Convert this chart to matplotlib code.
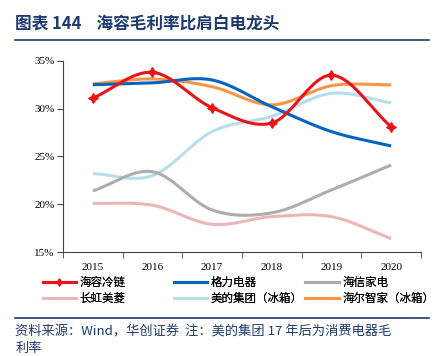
import matplotlib
matplotlib.use("Agg")
import matplotlib.pyplot as plt
import numpy as np
from matplotlib.lines import Line2D

plt.rcParams['font.family'] = ['Noto Sans CJK SC', 'DejaVu Sans']

years = ["2015", "2016", "2017", "2018", "2019", "2020"]
hairong = [31.1, 33.8, 30.1, 28.5, 33.5, 28.1]
gree = [32.5, 32.7, 33.0, 30.2, 27.6, 26.1]
hisense = [21.4, 23.4, 19.4, 19.1, 21.5, 24.1]
meiling = [20.1, 19.9, 17.9, 18.7, 18.7, 16.4]
midea = [23.2, 23.0, 27.6, 29.2, 31.6, 30.6]
haier = [32.6, 33.1, 32.3, 30.4, 32.4, 32.5]

names = ["海容冷链", "格力电器", "海信家电", "长虹美菱", "美的集团（冰箱）", "海尔智家（冰箱）"]
colors = ["#E8141B", "#0563C1", "#ADADAD", "#E9B7B8", "#B8DEEA", "#F79646"]
series = [hairong, gree, hisense, meiling, midea, haier]

navy = "#1F3A6E"
serif = "Liberation Serif"


def smooth(x, y, n=30):
    # catmull-rom curve through the points, like excel's smoothed line
    x = np.asarray(x, float)
    y = np.asarray(y, float)
    px = np.concatenate([[2 * x[0] - x[1]], x, [2 * x[-1] - x[-2]]])
    py = np.concatenate([[2 * y[0] - y[1]], y, [2 * y[-1] - y[-2]]])
    xs, ys = [], []
    t = np.linspace(0, 1, n)
    for i in range(1, len(px) - 2):
        for p, out in ((px, xs), (py, ys)):
            p0, p1, p2, p3 = p[i - 1], p[i], p[i + 1], p[i + 2]
            out.extend(0.5 * (2 * p1 + (-p0 + p2) * t
                              + (2 * p0 - 5 * p1 + 4 * p2 - p3) * t ** 2
                              + (-p0 + 3 * p1 - 3 * p2 + p3) * t ** 3))
    return np.array(xs), np.array(ys)


fig = plt.figure(figsize=(4.36, 3.56), dpi=100)
ax = fig.add_axes([0.1445, 0.292, 0.821, 0.537])

x = np.arange(len(years))
order = [3, 4, 2, 5, 1, 0]
for i in order:
    sx, sy = smooth(x, series[i])
    ax.plot(sx, sy, color=colors[i], lw=2.2, solid_capstyle='butt', zorder=3 + (i == 0))
ax.plot(x, hairong, ls='none', marker=(4, 1, 0), ms=7, color=colors[0], zorder=5)

ax.set_xlim(-0.5, 5.5)
ax.set_ylim(15, 35)
ax.set_yticks([15, 20, 25, 30, 35])
ax.set_yticklabels([f"{v}%" for v in [15, 20, 25, 30, 35]], fontfamily=serif, fontsize=8)
ax.set_xticks(x)
ax.set_xticklabels(years, fontfamily=serif, fontsize=8)
ax.set_xticks(np.arange(-0.5, 6, 1), minor=True)
ax.tick_params(axis='x', which='major', length=0, pad=8)
ax.tick_params(axis='x', which='minor', length=4, color='#444444')
ax.tick_params(axis='y', length=4, color='#444444', pad=2)
for s in ['top', 'right']:
    ax.spines[s].set_visible(False)
for s in ['left', 'bottom']:
    ax.spines[s].set_color('#444444')
    ax.spines[s].set_linewidth(0.8)

handles = []
for i in range(6):
    if i == 0:
        h = Line2D([], [], color=colors[i], lw=2.2, marker=(4, 1, 0), ms=5)
    else:
        h = Line2D([], [], color=colors[i], lw=2.2)
    handles.append(h)

# three legend columns at fixed positions, like the excel layout
col_x = [0.098, 0.398, 0.700]
for c in range(3):
    idx = [c, c + 3]
    leg = fig.legend([handles[i] for i in idx], [names[i] for i in idx],
                     loc='upper left', bbox_to_anchor=(col_x[c], 0.225), frameon=False,
                     fontsize=8.3, handlelength=2.9, handletextpad=0.3,
                     labelspacing=0.3, borderaxespad=0, borderpad=0)
    fig.add_artist(leg)

fig.text(0.035, 0.93, "图表 144    海容毛利率比肩白电龙头", fontsize=12, fontweight='bold',
         color=navy, va='center')
fig.add_artist(Line2D([0.035, 0.983], [0.888, 0.888], color=navy, lw=1.2))
fig.add_artist(Line2D([0.035, 0.983], [0.107, 0.107], color=navy, lw=1.2))
fig.text(0.035, 0.068, "资料来源：Wind，华创证券  注：美的集团 17 年后为消费电器毛", fontsize=9.5,
         style='italic', color=navy, va='center')
fig.text(0.035, 0.002, "利率", fontsize=9.5, style='italic', color=navy, va='bottom')

fig.savefig("out.png", dpi=100)
